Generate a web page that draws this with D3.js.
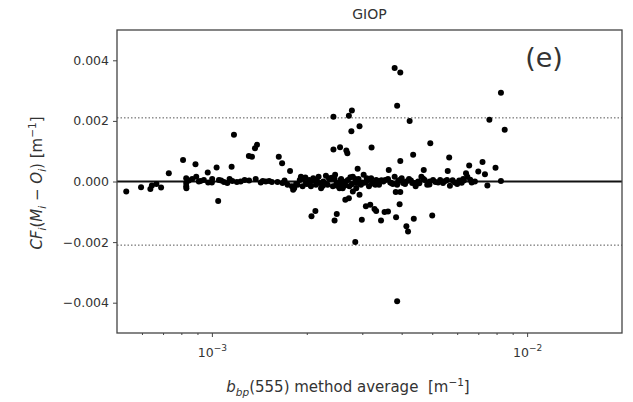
<!DOCTYPE html>
<html>
<head>
<meta charset="utf-8">
<script src="https://cdn.jsdelivr.net/npm/d3@7"></script>
<style>
  body { margin: 0; background: #fff; }
  text { font-family: "DejaVu Sans", sans-serif; fill: #333; }
</style>
</head>
<body>
<div id="chart"></div>
<script>
// x: bbp(555) method average [m^-1], y: CF_i(M_i - O_i) [m^-1]
const outX = [3.8e-3, 3.96e-3, 3.87e-3, 8.26e-3, 4.24e-3, 7.59e-3, 8.49e-3, 2.43e-3, 2.72e-3, 2.78e-3,
  2.94e-3, 2.77e-3, 1.175e-3, 3.21e-3, 4.93e-3, 2.43e-3, 2.55e-3, 2.67e-3, 2.69e-3, 1.39e-3,
  1.37e-3, 1.31e-3, 1.34e-3, 1.63e-3, 1.67e-3, 4.35e-3, 3.96e-3, 5.66e-3, 7.22e-3, 6.55e-3,
  7.94e-3, 7.0e-3, 7.35e-3, 8.1e-4, 8.87e-4, 1.035e-3, 1.155e-3, 9.7e-4, 7.3e-4, 1.77e-3,
  2.9e-3, 3.64e-3, 4.7e-3, 5.6e-3, 6.4e-3]
const outY = [0.00375, 0.0036, 0.0025, 0.00293, 0.0020, 0.00204, 0.00171, 0.00214, 0.00217, 0.00234,
  0.00182, 0.00166, 0.00154, 0.00112, 0.00126, 0.00106, 0.00113, 0.00102, 0.00093, 0.00121,
  0.0011, 0.00084, 0.00082, 0.00082, 0.0006, 0.00088, 0.00068, 0.00079, 0.00064, 0.00053,
  0.00045, 0.00033, 0.00024, 0.00071, 0.00057, 0.00046, 0.00049, 0.0003, 0.00027, 0.00035,
  0.00042, 0.00038, 0.00038, 0.00035, 0.00027]

const negX = [5.35e-4, 5.96e-4, 6.38e-4, 6.45e-4, 6.67e-4, 6.9e-4, 8.3e-4, 1.047e-3, 1.81e-3, 2.07e-3,
  2.13e-3, 2.45e-3, 2.49e-3, 2.65e-3, 2.72e-3, 2.8e-3, 2.87e-3, 2.94e-3, 2.99e-3, 2.85e-3,
  3.08e-3, 3.18e-3, 3.28e-3, 3.32e-3, 3.44e-3, 3.53e-3, 3.62e-3, 3.84e-3, 3.94e-3, 3.83e-3,
  3.96e-3, 4.14e-3, 4.19e-3, 4.37e-3, 5.0e-3, 3.87e-3, 7.48e-3, 8.26e-3]
const negY = [-0.00033, -0.00019, -0.00025, -0.00013, -0.00008, -0.0002, -0.00022, -0.00064, -0.00027, -0.00115,
  -0.00097, -0.00129, -0.00107, -0.0006, -0.00055, -0.00033, -0.00022, -0.00044, -0.00126, -0.002,
  -0.00082, -0.00077, -0.00091, -0.00097, -0.00129, -0.00101, -0.00099, -0.00118, -0.00075, -0.00035,
  -0.00035, -0.00148, -0.00165, -0.00123, -0.00112, -0.00395, -0.00013, 0.00002]

const bandX = [8.29e-4, 8.29e-4, 8.29e-4, 8.66e-4, 8.92e-4, 9.09e-4, 9.43e-4, 9.73e-4, 1.002e-3, 1.053e-3,
  1.092e-3, 1.119e-3, 1.138e-3, 1.161e-3, 1.234e-3, 1.312e-3, 1.377e-3, 1.429e-3, 1.482e-3, 1.519e-3,
  1.615e-3, 1.675e-3, 1.738e-3, 1.794e-3, 1.824e-3, 1.87e-3, 1.916e-3, 1.94e-3, 1.988e-3, 2.036e-3,
  2.062e-3, 2.097e-3, 2.138e-3, 2.18e-3, 2.22e-3, 2.257e-3, 2.3e-3, 2.33e-3, 2.37e-3, 2.42e-3,
  2.46e-3, 2.51e-3, 2.54e-3, 2.57e-3, 2.6e-3, 2.66e-3, 2.73e-3, 2.8e-3, 2.87e-3, 2.92e-3,
  2.97e-3, 3.03e-3, 3.09e-3, 3.15e-3, 3.2e-3, 3.26e-3, 3.32e-3, 3.39e-3, 3.5e-3, 3.62e-3,
  3.71e-3, 3.8e-3, 3.87e-3, 3.94e-3, 4.04e-3, 4.14e-3, 4.22e-3, 4.32e-3, 4.43e-3, 4.51e-3,
  4.62e-3, 4.73e-3, 4.82e-3, 4.91e-3, 5.03e-3, 5.22e-3, 5.41e-3, 5.57e-3, 5.69e-3, 5.9e-3,
  6.09e-3, 6.27e-3, 6.46e-3, 6.67e-3, 6.83e-3, 1.95e-3, 2.25e-3, 2.45e-3, 2.6e-3, 2.75e-3,
  2.95e-3, 3.1e-3, 3.3e-3, 3.55e-3, 3.75e-3, 4.0e-3, 4.4e-3, 4.9e-3, 5.3e-3, 6.0e-3,
  6.3e-3, 1.9e-3, 2.0e-3, 2.1e-3, 2.2e-3, 2.35e-3, 2.5e-3, 2.7e-3, 2.85e-3, 3.0e-3,
  8.45e-4, 9.2e-4, 1.0e-3, 1.07e-3, 1.2e-3, 1.27e-3, 1.45e-3, 1.55e-3, 1.7e-3, 1.85e-3,
  1.98e-3, 2.05e-3, 2.15e-3, 2.28e-3, 2.4e-3, 2.48e-3, 2.56e-3, 2.64e-3, 2.78e-3, 2.9e-3,
  3.05e-3, 3.12e-3, 3.22e-3, 3.36e-3, 3.45e-3, 3.68e-3, 3.9e-3, 4.1e-3, 4.28e-3, 4.55e-3,
  4.68e-3, 5.12e-3, 5.5e-3, 5.8e-3, 6.2e-3, 6.6e-3]
const bandY = [0.00011, -0.00005, -0.00016, 0.00008, 0.00016, 0, 0.00005, -0.00003, 0.00008, 0.00005,
  -0.00002, -0.00005, 0.00008, 0.00002, 0, 0.00003, 0.00008, -0.00003, 0, 0.00002,
  -0.00002, -0.00005, -0.00011, -0.00016, -0.00022, -0.00011, 0.00016, -0.00016, -0.00005, 0.00005,
  -0.00016, 0.00011, -0.00011, 0.00016, -0.00022, 0, 0.00019, -0.00011, 0.00008, -0.00016,
  0.00022, -0.00005, -0.00022, 0.00008, -0.00011, 0, -0.00016, 0.00016, -0.00005, 0.00008,
  -0.00011, 0.00022, 0, -0.00016, 0.00011, -0.00005, 0.00005, -0.00011, 0, 0.00008,
  -0.00005, 0.00016, -0.00011, 0.00005, -0.00005, 0, 0.00008, -0.00005, -0.00016, 0,
  0.00016, 0.00005, -0.00011, 0, 0.00005, -0.00003, -0.00005, 0.00005, -0.00014, -0.00003,
  0.00003, 0.00008, 0.00016, -0.00003, 0, 0.00011, -0.00014, 0.00008, -0.00022, 0.00014,
  -0.00008, 0.00011, -0.00011, 0.00005, -0.00008, 0.00011, -0.00005, -0.0001, 0.00005, -0.00008,
  0.00003, 0.00005, -0.00008, 0.00003, -0.00005, 0.00011, -0.00014, 0.00005, 0.00008, -0.00003,
  0.00003, 0.00002, -0.00003, 0.00003, -0.00002, 0.00005, 0.00002, -0.00002, 0.00003, -0.00008,
  0.00013, -0.00011, 0.00006, -0.00006, 0.00012, -0.00009, 0.00004, -0.00013, -0.00009, 0.00003,
  -0.00004, 0.00006, -0.00007, 0.00002, 0.00004, -0.00003, 0.00002, -0.00008, 0.00003, -0.00006,
  0.00009, -0.00002, 0.00002, 0.00004, -0.00004, 0.00006]

const yTicks = [-0.004, -0.002, 0, 0.002, 0.004]
const xMajor = [1e-3, 1e-2]
const xMinor = [6e-4, 7e-4, 8e-4, 9e-4, 2e-3, 3e-3, 4e-3, 5e-3, 6e-3, 7e-3, 8e-3, 9e-3]
const limit = 0.0021

const width = 633
const height = 402
const margin = { top: 30, right: 11, bottom: 69, left: 117 }
const w = width - margin.left - margin.right
const h = height - margin.top - margin.bottom

const svg = d3.select('#chart').append('svg')
  .attr('width', width)
  .attr('height', height)

const g = svg.append('g').attr('transform', `translate(${margin.left},${margin.top})`)

const x = d3.scaleLog().domain([5e-4, 2e-2]).range([0, w])
const y = d3.scaleLinear().domain([-0.005, 0.005]).range([h, 0])

// reference lines
g.append('line')
  .attr('x1', 0).attr('x2', w)
  .attr('y1', y(0)).attr('y2', y(0))
  .attr('stroke', '#111').attr('stroke-width', 1.8)

g.selectAll('.lim').data([limit, -limit]).enter().append('line')
  .attr('x1', 0).attr('x2', w)
  .attr('y1', d => y(d)).attr('y2', d => y(d))
  .attr('stroke', '#555').attr('stroke-width', 1).attr('stroke-dasharray', '1.5,2')

// points
const pts = []
outX.forEach((d, i) => pts.push([d, outY[i]]))
negX.forEach((d, i) => pts.push([d, negY[i]]))
bandX.forEach((d, i) => pts.push([d, bandY[i]]))

g.selectAll('circle').data(pts).enter().append('circle')
  .attr('cx', d => x(d[0]))
  .attr('cy', d => y(d[1]))
  .attr('r', 3)
  .attr('fill', '#000')

// y axis
const yAxis = g.append('g')
  .call(d3.axisLeft(y).tickValues(yTicks).tickSize(4).tickPadding(4).tickFormat(d3.format('.3f')))
yAxis.select('.domain').remove()
yAxis.selectAll('line').attr('stroke', '#444')
yAxis.selectAll('text').style('font-size', '12.5px').attr('fill', '#333')

// x axis
const xAxis = g.append('g').attr('transform', `translate(0,${h})`)
  .call(d3.axisBottom(x).tickValues(xMajor).tickSize(4).tickPadding(4).tickFormat(''))
xAxis.select('.domain').remove()
xAxis.selectAll('line').attr('stroke', '#444')

const xMin = g.append('g').attr('transform', `translate(0,${h})`)
  .call(d3.axisBottom(x).tickValues(xMinor).tickSize(2).tickFormat(''))
xMin.select('.domain').remove()
xMin.selectAll('line').attr('stroke', '#444')

xAxis.selectAll('.tick').each(function (d) {
  const t = d3.select(this).append('text')
    .attr('y', 24)
    .attr('text-anchor', 'middle')
    .style('font-size', '12.5px')
    .attr('fill', '#333')
  t.append('tspan').text('10')
  t.append('tspan').attr('dy', -6).style('font-size', '9px').text('\u2212' + Math.round(-Math.log10(d)))
})

// frame
g.append('rect')
  .attr('width', w).attr('height', h)
  .attr('fill', 'none')
  .attr('stroke', '#444').attr('stroke-width', 1.3)

// title
svg.append('text')
  .attr('x', margin.left + w / 2).attr('y', 19)
  .attr('text-anchor', 'middle')
  .style('font-size', '14px')
  .text('GIOP')

g.append('text')
  .attr('x', 427).attr('y', 37)
  .attr('text-anchor', 'middle')
  .style('font-size', '27px')
  .text('(e)')

// axis labels
const xl = svg.append('text')
  .attr('x', 348).attr('y', 392)
  .attr('text-anchor', 'middle')
  .style('font-size', '15px')
xl.append('tspan').style('font-style', 'italic').text('b')
xl.append('tspan').attr('dy', 4).style('font-size', '10.5px').style('font-style', 'italic').text('bp')
xl.append('tspan').attr('dy', -4).text('(555) method average\u00a0\u00a0[m')
xl.append('tspan').attr('dy', -6).style('font-size', '10.5px').text('\u22121')
xl.append('tspan').attr('dy', 6).text(']')

const yl = svg.append('text')
  .attr('transform', 'translate(42,183) rotate(-90)')
  .attr('text-anchor', 'middle')
  .style('font-size', '15px')
yl.append('tspan').style('font-style', 'italic').text('CF')
yl.append('tspan').attr('dy', 4).style('font-size', '10.5px').style('font-style', 'italic').text('i')
yl.append('tspan').attr('dy', -4).text('(')
yl.append('tspan').style('font-style', 'italic').text('M')
yl.append('tspan').attr('dy', 4).style('font-size', '10.5px').style('font-style', 'italic').text('i')
yl.append('tspan').attr('dy', -4).text('\u00a0\u2212\u00a0')
yl.append('tspan').style('font-style', 'italic').text('O')
yl.append('tspan').attr('dy', 4).style('font-size', '10.5px').style('font-style', 'italic').text('i')
yl.append('tspan').attr('dy', -4).text(')\u00a0[m')
yl.append('tspan').attr('dy', -6).style('font-size', '10.5px').text('\u22121')
yl.append('tspan').attr('dy', 6).text(']')
</script>
</body>
</html>
